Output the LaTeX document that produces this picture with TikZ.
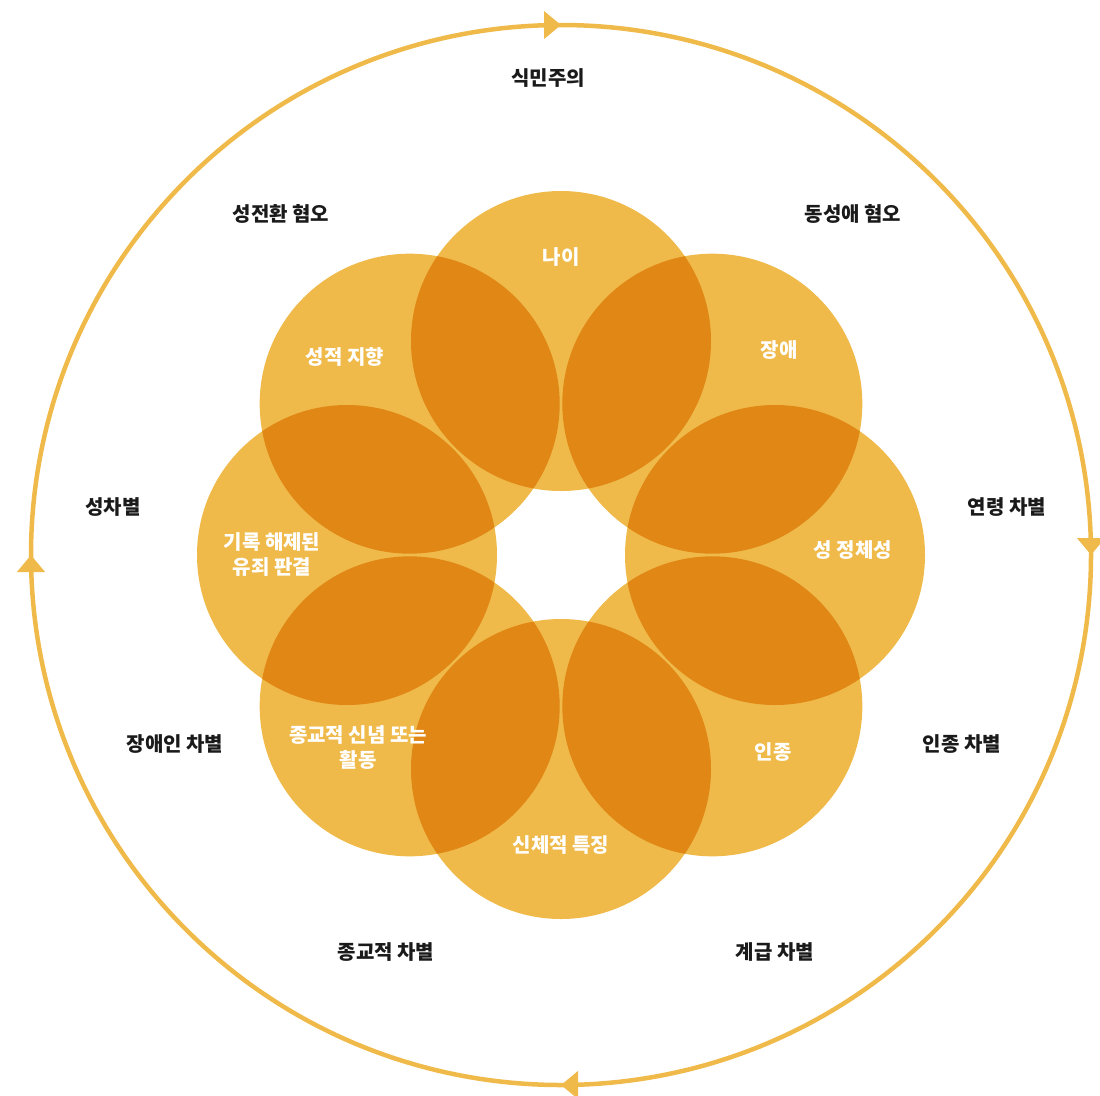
\documentclass[tikz,border=0pt]{standalone}
\usepackage{fontspec}
\setmainfont{Noto Sans CJK KR}
\usepackage{tikz}
\usetikzlibrary{decorations.markings, arrows.meta}
\definecolor{petalfill}{RGB}{239,186,74}
\definecolor{labeltext}{RGB}{26,26,26}
\tikzset{
    petal/.style={circle, fill=petalfill, inner sep=0pt, minimum size=300pt},
    inlabel/.style={align=center, text=white, font=\bfseries\fontsize{20}{25}\selectfont},
    outlabel/.style={align=center, text=labeltext, font=\bfseries\fontsize{20}{25}\selectfont},
    cycle/.style={draw=petalfill, line width=4.5pt,
        decoration={markings,
            mark=at position 0.125 with {\arrow{Triangle[width=27pt, length=17pt]}},
            mark=at position 0.375 with {\arrow{Triangle[width=27pt, length=17pt]}},
            mark=at position 0.625 with {\arrow{Triangle[width=27pt, length=17pt]}},
            mark=at position 0.875 with {\arrow{Triangle[width=27pt, length=17pt]}}},
        postaction={decorate}}
}

\begin{document}
\begin{tikzpicture}[x=1pt, y=-1pt]
    \useasboundingbox (0,0) rectangle (1100,1095);
    \coordinate (c) at (561,555);

    % Outer cycle
    \path[cycle] (c) ++(225:530) arc[start angle=225, end angle=585, radius=530];

    % Petals (overlaps darken by multiply)
    \begin{scope}[shift={(c)}, blend group=multiply]
        \foreach \a [count=\i] in {270,315,0,45,90,135,180,225} {
            \node[petal] (p\i) at (\a:214) {};
        }
    \end{scope}

    % Petal labels
    \foreach \x/\y/\txt [count=\i] in {
        561/257/{나이},
        779/350/{장애},
        853/550/{성 정체성},
        773/752/{인종},
        561/845/{신체적 특징},
        358/748/{종교적 신념 또는\\활동},
        272/555/{기록 해제된\\유죄 판결},
        345/357/{성적 지향}} {
        \node[inlabel] (t\i) at (\x,\y) {\txt};
    }

    % Outer labels
    \foreach \x/\y/\txt [count=\i] in {
        548/78/{식민주의},
        853/214/{동성애 혐오},
        1007/507/{연령 차별},
        962/744/{인종 차별},
        775/952/{계급 차별},
        386/952/{종교적 차별},
        175/744/{장애인 차별},
        113/507/{성차별},
        281/214/{성전환 혐오}} {
        \node[outlabel] (o\i) at (\x,\y) {\txt};
    }
\end{tikzpicture}
\end{document}
